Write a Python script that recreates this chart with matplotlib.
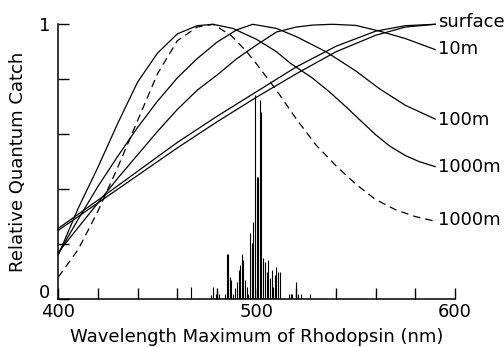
import matplotlib
matplotlib.use("Agg")
import matplotlib.pyplot as plt
from matplotlib.transforms import ScaledTranslation

# ---- data ----
# surface (two nearly straight curves)
surf1_wl = [400, 420, 440, 460, 480, 500, 520, 540, 560, 575, 590]
surf1_q  = [0.257, 0.36, 0.465, 0.57, 0.665, 0.755, 0.845, 0.92, 0.975, 0.995, 1.0]
surf2_wl = [400, 420, 440, 460, 480, 500, 520, 540, 560, 575, 590]
surf2_q  = [0.25, 0.35, 0.45, 0.55, 0.645, 0.735, 0.82, 0.9, 0.96, 0.99, 1.0]
# 10 m
m10_wl = [400, 410, 420, 430, 440, 450, 460, 470, 480, 490, 500, 510, 520, 528, 538, 550, 562, 575, 590]
m10_q  = [0.17, 0.26, 0.35, 0.44, 0.525, 0.61, 0.69, 0.76, 0.815, 0.875, 0.925, 0.972, 0.99, 0.997, 1.0, 0.996, 0.975, 0.948, 0.908]
# 100 m
m100_wl = [400, 410, 420, 430, 440, 450, 460, 470, 480, 490, 498, 510, 520, 535, 550, 562, 575, 590]
m100_q  = [0.165, 0.29, 0.41, 0.52, 0.625, 0.72, 0.805, 0.875, 0.935, 0.98, 1.0, 0.985, 0.955, 0.9, 0.83, 0.765, 0.705, 0.655]
# 1000 m (solid)
m1000_wl = [400, 410, 420, 430, 440, 450, 460, 470, 478, 488, 500, 510, 517, 528, 537, 545, 552, 560, 567, 575, 582, 590]
m1000_q  = [0.16, 0.33, 0.48, 0.64, 0.79, 0.895, 0.965, 0.995, 1.0, 0.985, 0.945, 0.90, 0.858, 0.805, 0.752, 0.70, 0.652, 0.598, 0.557, 0.522, 0.5, 0.482]
# 1000 m (dashed)
m1000d_wl = [400, 410, 420, 430, 440, 450, 460, 470, 478, 487, 495, 500, 510, 520, 530, 540, 550, 560, 570, 580, 590]
m1000d_q  = [0.08, 0.18, 0.32, 0.48, 0.65, 0.82, 0.94, 0.99, 1.0, 0.96, 0.9, 0.855, 0.76, 0.655, 0.56, 0.485, 0.418, 0.362, 0.325, 0.30, 0.283]

# histogram of rhodopsin wavelength maxima
bar_wl = [466.7, 476.9, 478.1, 479.3, 480.1, 481.0, 484.0, 484.8, 485.8, 486.5, 487.2,
          488.2, 489.2, 490.2, 490.9, 491.6, 492.4, 493.2, 493.9, 494.9, 495.6, 496.6,
          497.4, 498.3, 499.1, 500.0, 500.8, 501.6, 502.3, 503.3, 504.1, 505.0, 505.8,
          506.7, 507.5, 508.3, 509.2, 510.0, 511.0, 511.7, 516.4, 517.1, 517.9, 519.8,
          520.9, 522.6, 526.8]
bar_h = [0.045, 0.015, 0.042, 0.02, 0.03, 0.02, 0.02, 0.164, 0.164, 0.08, 0.07,
         0.02, 0.039, 0.063, 0.106, 0.124, 0.164, 0.142, 0.069, 0.045, 0.02, 0.24,
         0.203, 0.281, 0.743, 0.445, 0.445, 0.725, 0.682, 0.15, 0.136, 0.1, 0.142,
         0.075, 0.106, 0.045, 0.087, 0.118, 0.1, 0.1, 0.02, 0.02, 0.02, 0.063,
         0.02, 0.02, 0.02]

labels = ["surface", "10m", "100m", "1000m", "1000m"]
label_y = [1.01, 0.909, 0.652, 0.482, 0.288]

xticks = [400, 420, 440, 460, 480, 500, 520, 540, 560, 580, 600]
xticklabels = ["400", "", "", "", "", "500", "", "", "", "", "600"]
yticks = [0, 0.2, 0.4, 0.6, 0.8, 1.0]
yticklabels = ["0", "", "", "", "", "1"]

plt.rcParams['font.family'] = ['DejaVu Sans']

fig = plt.figure(figsize=(5.04, 3.47), dpi=100)
ax = fig.add_axes([0.1157, 0.1383, 0.7871, 0.7917])

lw = 0.9
ax.plot(surf1_wl, surf1_q, color='black', lw=lw, clip_on=False)
ax.plot(surf2_wl, surf2_q, color='black', lw=lw, clip_on=False)
ax.plot(m10_wl, m10_q, color='black', lw=lw, clip_on=False)
ax.plot(m100_wl, m100_q, color='black', lw=lw, clip_on=False)
ax.plot(m1000_wl, m1000_q, color='black', lw=lw, clip_on=False)
ax.plot(m1000d_wl, m1000d_q, color='black', lw=lw, linestyle=(0, (6, 4)), clip_on=False)

ax.vlines(bar_wl, 0, bar_h, color='black', lw=0.8)

for lab, y in zip(labels, label_y):
    ax.text(591.5, y, lab, ha='left', va='center', fontsize=13, clip_on=False)

ax.set_xlim(400, 600)
ax.set_ylim(0, 1)
ax.set_xticks(xticks)
ax.set_xticklabels(xticklabels)
ax.set_yticks(yticks)
ax.set_yticklabels(yticklabels)
ax.tick_params(direction='in', length=8, width=1.0, labelsize=13, pad=3)
ax.tick_params(axis='y', pad=6)
for s in ['top', 'right']:
    ax.spines[s].set_visible(False)
for s in ['left', 'bottom']:
    ax.spines[s].set_linewidth(1.1)

# lift the "0" label a little, as in the reference
ylabs = ax.get_yticklabels()
ylabs[0].set_transform(ylabs[0].get_transform() + ScaledTranslation(0, 6 / 72, fig.dpi_scale_trans))

ax.set_xlabel("Wavelength Maximum of Rhodopsin (nm)", fontsize=13, labelpad=5)
ax.set_ylabel("Relative Quantum Catch", fontsize=13, labelpad=8)

fig.savefig("out.png", dpi=100)
